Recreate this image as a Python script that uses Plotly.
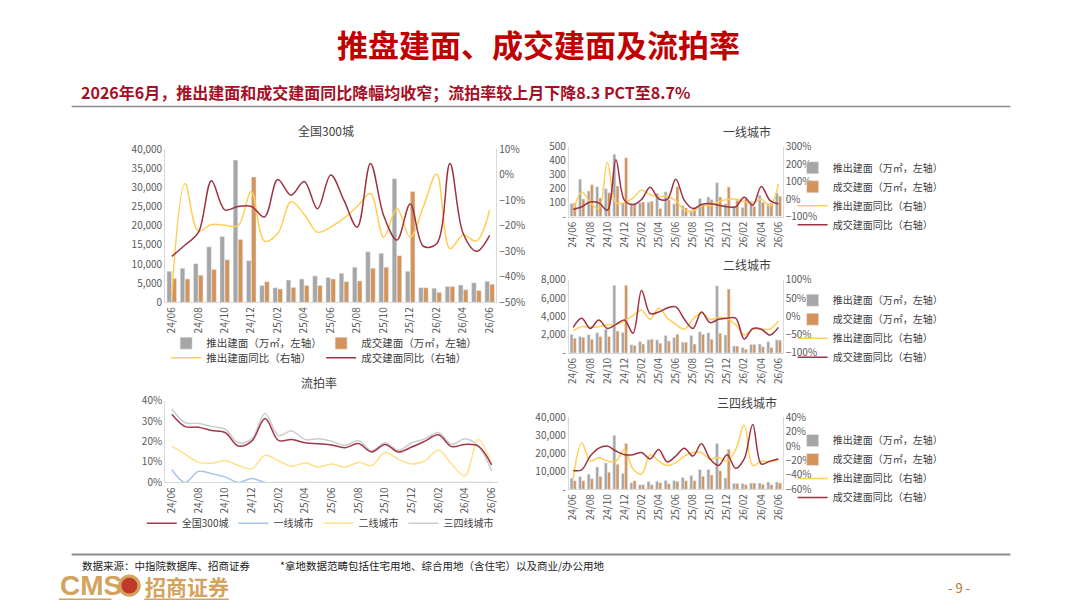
import plotly.graph_objects as go

W, H = 1080, 608
OFF = 8  # page margin of the browser
FONT = "Noto Sans CJK SC"
TXT = "#595959"
AXIS = "#D9D9D9"
GRAY = "#A6A6A6"
ORANGE = "#D4935A"
YELLOW = "#FFCF55"
MAROON = "#9E3242"

months = ["24/06", "24/07", "24/08", "24/09", "24/10", "24/11", "24/12",
          "25/01", "25/02", "25/03", "25/04", "25/05", "25/06", "25/07",
          "25/08", "25/09", "25/10", "25/11", "25/12",
          "26/01", "26/02", "26/03", "26/04", "26/05", "26/06"]

# 全国300城 (万㎡ / %)
nat_supply = [8100, 8900, 10100, 14500, 17200, 37200, 10900, 4400, 3800, 5800, 6100, 6900, 6500,
              7600, 9200, 13200, 12800, 32300, 8100, 3800, 3700, 4100, 4500, 5100, 5500]
nat_deal = [6200, 6100, 7100, 8600, 11100, 16400, 32800, 5400, 3500, 3900, 4400, 4400, 6100,
            5400, 5600, 8900, 9200, 12200, 29000, 3800, 2600, 4100, 3300, 3100, 4700]
nat_supply_yoy = [-47.5, -3.5, -22, -19.5, -19.8, -20, -6.5, -26, -23, -10.5, -15.5, -22.5, -20.5,
                  -17, -12.4, -7.3, -24.5, -13.3, -24.5, -12.4, 0.4, -29, -23.6, -26, -13.7]
nat_deal_yoy = [-32, -27.5, -22.7, -2.3, -13.7, -12.4, -12.4, -16.5, -1.8, -8, -2.6, -13.3, 0,
                -10, -20.5, 4.5, -16, -25.6, -11.4, -28, -27, 4.5, -23, -30, -23.7]

# 一线城市
t1_supply = [93, 266, 183, 213, 199, 444, 98, 88, 100, 102, 167, 178, 91,
             79, 46, 129, 140, 242, 91, 62, 65, 109, 152, 93, 169]
t1_deal = [97, 125, 227, 133, 170, 218, 420, 92, 104, 110, 58, 120, 213,
           62, 64, 89, 122, 140, 212, 116, 124, 72, 102, 98, 146]
t1_supply_yoy = [-70, 40, -20, -55, 209, -22, -20, 5, 52, 25, 15, 15, -8,
                 -63, -70, -35, -38, -15, -2, 0, -15, -22, 0, -40, 85]
t1_deal_yoy = [-60, -44, -17, -22, -63, 224, -7, -31, -2, 67, 2, -2, 113,
               -7, -54, -31, -26, -35, -44, -44, 11, -35, 72, -7, -28]

# 二线城市
t2_supply = [2040, 1800, 2000, 2200, 2600, 7400, 2250, 900, 1250, 1430, 1430, 1900, 1700,
             1180, 1900, 2330, 2200, 7350, 1970, 750, 600, 930, 970, 1220, 1430]
t2_deal = [1600, 1700, 1500, 1800, 1800, 2400, 7400, 800, 970, 1500, 1070, 1300, 2040,
           1180, 970, 2040, 1500, 2150, 7000, 750, 400, 930, 680, 600, 1400]
t2_supply_yoy = [-39, -28, -30, -28, -23, -22, -13, 3, 17, -8, 23, -4, -22,
                 -35, -8, 10, -8, -3, -6, -22, -51, -35, -35, -35, -13]
t2_deal_yoy = [-30, -5, -33, -10, -33, -22, -10, -46, 71, 8, 12, 23, 26,
               -8, -33, 12, -17, -8, -5, -5, -62, -33, -35, -51, -30]

# 三四线城市
t34_supply = [6100, 7000, 8300, 12300, 14600, 29900, 8800, 3600, 2500, 4300, 4300, 4900, 4900,
              6500, 7600, 11000, 11000, 25400, 6300, 3200, 3200, 3400, 3400, 4000, 4000]
t34_deal = [4700, 4700, 5800, 7000, 9400, 13900, 25400, 4700, 2500, 2500, 3600, 3100, 4300,
            4700, 4700, 7200, 7900, 10300, 22200, 3200, 2500, 3400, 2700, 2500, 3400]
t34_supply_yoy = [-46, 4, -21, -16, -21, -21, -5, -32, -39, -12, -21, -27, -23,
                  -14, -9, -9, -18, -16, -21, -5, 29, -27, -21, -22, -18]
t34_deal_yoy = [-34, -33, -14, -3, 0, -7, -12, -12, -9, -18, -5, -22, -14,
                -3, -14, 3, -18, -27, -12, -31, -18, 30, -25, -21, -18]

# 流拍率 (%)
lp_nat = [33.3, 27.3, 27, 25.4, 24.4, 17.8, 20.2, 31.3, 20.6, 21, 19.4, 18.9, 18.3,
          17, 19, 14.9, 18.6, 14.9, 17.3, 20.2, 23.3, 17.5, 18.6, 17.8, 8.6]
lp_t1 = [6.3, 0, 5.4, 4.3, 2.7, 0, 1.9, 0, 0, 0, 0, 0, 0,
         0, 0, 0, 0, 0, 0, 0, 0, 0, 0, 0, 0]
lp_t2 = [17.8, 13.8, 9.8, 9.4, 10.6, 8.3, 6.7, 13.3, 10.6, 7.9, 9.5, 7.5, 9,
         7.5, 9.8, 8.3, 14.6, 11.4, 9, 10.6, 15.9, 9, 3.2, 21, 8.6]
lp_t34 = [36, 29.2, 28.9, 27.3, 26, 19.4, 21.3, 33.7, 22.9, 25.2, 21, 21.4, 20.2,
          18.1, 20.5, 15.4, 19.4, 15.7, 19.4, 21.3, 24.4, 18.6, 21.4, 17.8, 5.6]

names = ["推出建面（万㎡，左轴）", "成交建面（万㎡，左轴）", "推出建面同比（右轴）", "成交建面同比（右轴）"]


def px(x):
    return (x - OFF) / W


def py(y):
    return 1 - (y - OFF) / H


def akey(ref):
    return ref[0] + "axis" + ref[1:]


def num_label(v, zero):
    return zero if v == 0 else f"{v:,}"


fig = go.Figure()
layout = {}

panels = [
    # x, y left, y right, x range px, y range px (top, bottom), data, left axis, right axis, legends
    dict(x="x", yl="y", yr="y2", xs=(162, 495), ys=(144, 301),
         data=(nat_supply, nat_deal, nat_supply_yoy, nat_deal_yoy),
         left=(40000, 5000, "0"), right=(-50, 10, 10), lg=("legend", "legend2")),
    dict(x="x2", yl="y3", yr="y4", xs=(568, 783), ys=(141, 213),
         data=(t1_supply, t1_deal, t1_supply_yoy, t1_deal_yoy),
         left=(500, 100, "-"), right=(-100, 300, 100), lg=("legend3", "legend3")),
    dict(x="x3", yl="y5", yr="y6", xs=(568, 783), ys=(278, 353),
         data=(t2_supply, t2_deal, t2_supply_yoy, t2_deal_yoy),
         left=(8000, 2000, "-"), right=(-100, 100, 50), lg=("legend4", "legend4")),
    dict(x="x4", yl="y7", yr="y8", xs=(568, 783), ys=(419, 493),
         data=(t34_supply, t34_deal, t34_supply_yoy, t34_deal_yoy),
         left=(40000, 10000, "-"), right=(-60, 40, 20), lg=("legend5", "legend5")),
]

for p in panels:
    supply, deal, s_yoy, d_yoy = p["data"]
    fig.add_trace(go.Bar(x=months, y=supply, name=names[0], marker_color=GRAY,
                         xaxis=p["x"], yaxis=p["yl"], offsetgroup="s", legend=p["lg"][0]))
    fig.add_trace(go.Bar(x=months, y=deal, name=names[1], marker_color=ORANGE,
                         xaxis=p["x"], yaxis=p["yl"], offsetgroup="d", legend=p["lg"][0]))
    fig.add_trace(go.Scatter(x=months, y=s_yoy, name=names[2], mode="lines",
                             line=dict(color=YELLOW, width=1.5, shape="spline", smoothing=1),
                             xaxis=p["x"], yaxis=p["yr"], legend=p["lg"][1]))
    fig.add_trace(go.Scatter(x=months, y=d_yoy, name=names[3], mode="lines",
                             line=dict(color=MAROON, width=1.5, shape="spline", smoothing=1),
                             xaxis=p["x"], yaxis=p["yr"], legend=p["lg"][1]))

    top, step, zero = p["left"]
    lvals = list(range(0, top + 1, step))
    lo, hi, rstep = p["right"]
    layout[akey(p["x"])] = dict(
        domain=[px(p["xs"][0]), px(p["xs"][1])], anchor=p["yl"], type="category",
        categoryorder="array", categoryarray=months, range=[-0.5, 24.5],
        tickmode="array", tickvals=months[::2], tickangle=-90,
        showline=True, linecolor=AXIS, ticks="", showgrid=False, zeroline=False,
        tickfont=dict(size=10, color=TXT))
    layout[akey(p["yl"])] = dict(
        domain=[py(p["ys"][1]), py(p["ys"][0])], anchor=p["x"], range=[0, top],
        tickmode="array", tickvals=lvals, ticktext=[num_label(v, zero) for v in lvals],
        showline=True, linecolor=AXIS, ticks="", showgrid=False, zeroline=False,
        tickfont=dict(size=10, color=TXT))
    layout[akey(p["yr"])] = dict(
        overlaying=p["yl"], side="right", anchor=p["x"], range=[lo, hi],
        tick0=lo, dtick=rstep, ticksuffix="%",
        showline=True, linecolor=AXIS, ticks="", showgrid=False, zeroline=False,
        tickfont=dict(size=10, color=TXT))

# 流拍率
lp_series = [("全国300城", lp_nat, "#A0384A"), ("一线城市", lp_t1, "#A9C4E8"),
             ("二线城市", lp_t2, "#FFE08A"), ("三四线城市", lp_t34, "#CDCDCD")]
for name, vals, col in lp_series[::-1]:
    fig.add_trace(go.Scatter(x=months, y=vals, name=name, mode="lines",
                             line=dict(color=col, width=1.5, shape="spline", smoothing=1),
                             xaxis="x5", yaxis="y9", legend="legend6"))
layout["xaxis5"] = dict(
    domain=[px(162), px(497)], anchor="y9", type="category",
    categoryorder="array", categoryarray=months, range=[-0.5, 24.5],
    tickmode="array", tickvals=months[::2], tickangle=-90,
    showline=True, linecolor=AXIS, ticks="", showgrid=False, zeroline=False,
    tickfont=dict(size=10, color=TXT))
layout["yaxis9"] = dict(
    domain=[py(486), py(402)], anchor="x5", range=[0, 40], dtick=10, ticksuffix="%",
    showline=True, linecolor=AXIS, ticks="", showgrid=False, zeroline=False,
    tickfont=dict(size=10, color=TXT))

legend_base = dict(bgcolor="rgba(0,0,0,0)", font=dict(family=FONT, size=10.5, color="#404040"),
                   itemclick=False, itemdoubleclick=False, traceorder="normal")
layout["legend"] = dict(legend_base, orientation="h", x=px(163), y=py(343),
                        xanchor="left", yanchor="middle", entrywidth=110)
layout["legend2"] = dict(legend_base, orientation="h", x=px(163), y=py(358),
                         xanchor="left", yanchor="middle", entrywidth=110)
for lg, top in (("legend3", 148), ("legend4", 284), ("legend5", 428)):
    layout[lg] = dict(legend_base, orientation="v", x=px(793), y=py(top),
                      xanchor="left", yanchor="top")
    layout[lg]["font"] = dict(family=FONT, size=10, color="#404040")
layout["legend6"] = dict(legend_base, orientation="h", x=px(318), y=py(528),
                         xanchor="center", yanchor="middle", traceorder="reversed")
layout["legend6"]["font"] = dict(family=FONT, size=10, color="#404040")

annotations = [
    dict(text="<b>推盘建面、成交建面及流拍率</b>", x=px(537), y=py(35),
         font=dict(size=31, color="#C00000")),
    dict(text="<b>2026年6月，推出建面和成交建面同比降幅均收窄；流拍率较上月下降8.3 PCT至8.7%</b>",
         x=px(75), y=py(85), xanchor="left", font=dict(size=16, color="#A50F25")),
    dict(text="全国300城", x=px(324), y=py(125), font=dict(size=12, color="#404040")),
    dict(text="一线城市", x=px(747), y=py(126), font=dict(size=12, color="#404040")),
    dict(text="二线城市", x=px(747), y=py(262), font=dict(size=12, color="#404040")),
    dict(text="三四线城市", x=px(747), y=py(404), font=dict(size=12, color="#404040")),
    dict(text="流拍率", x=px(317), y=py(383), font=dict(size=12, color="#404040")),
    dict(text="数据来源：中指院数据库、招商证券", x=px(76), y=py(571), xanchor="left",
         font=dict(size=10.5, color="#222222")),
    dict(text="*拿地数据范畴包括住宅用地、综合用地（含住宅）以及商业/办公用地", x=px(275), y=py(571),
         xanchor="left", font=dict(size=10.5, color="#222222")),
    dict(text="<b>CMS</b>", x=px(54), y=py(592), xanchor="left",
         font=dict(family="Liberation Sans Narrow, Liberation Sans", size=28, color="#D2A35C")),
    dict(text="<b>招商证券</b>", x=px(140), y=py(592), xanchor="left",
         font=dict(size=21, color="#D2A35C")),
    dict(text="- 9 -", x=px(960), y=py(594), font=dict(size=13, color="#B8743A")),
]
for a in annotations:
    a.update(xref="paper", yref="paper", showarrow=False, yanchor="middle")
    a.setdefault("xanchor", "center")
    a["font"].setdefault("family", FONT)

shapes = [
    dict(type="line", x0=px(68), x1=px(1012), y0=py(100), y1=py(100),
         line=dict(color="#8C8C8C", width=1.5)),
    dict(type="line", x0=px(68), x1=px(1012), y0=py(560), y1=py(560),
         line=dict(color="#8C8C8C", width=2)),
    dict(type="circle", x0=px(115), x1=px(137), y0=py(603), y1=py(581),
         fillcolor="#D2A35C", line=dict(color="#D2A35C", width=1)),
    dict(type="circle", x0=px(118), x1=px(134), y0=py(600), y1=py(584),
         fillcolor="#C0392B", line=dict(width=0)),
    dict(type="line", x0=px(55), x1=px(108), y0=py(606), y1=py(606),
         line=dict(color="#D2A35C", width=1.5)),
    dict(type="line", x0=px(141), x1=px(226), y0=py(606), y1=py(606),
         line=dict(color="#D2A35C", width=1.5)),
]
for s in shapes:
    s.update(xref="paper", yref="paper")

fig.update_layout(
    width=W, height=H, margin=dict(l=0, r=0, t=0, b=0),
    paper_bgcolor="white", plot_bgcolor="white",
    font=dict(family=FONT, size=10, color=TXT),
    barmode="group", bargap=0.25, bargroupgap=0.08,
    annotations=annotations, shapes=shapes, **layout)

fig.write_html("out.html", config={"displayModeBar": False})
